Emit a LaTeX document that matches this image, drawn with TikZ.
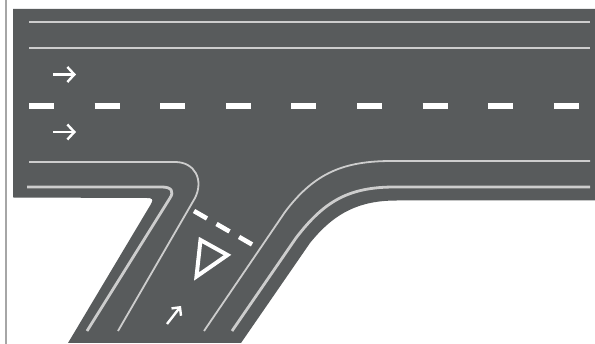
\documentclass[tikz,border=0pt]{standalone}
\usepackage{tikz}
\usetikzlibrary{arrows.meta}
\definecolor{RoadGray}{HTML}{585B5C}
\definecolor{EdgeGray}{HTML}{CDCDCD}
\definecolor{SideGray}{HTML}{A6A6A6}
\begin{document}
\begin{tikzpicture}[
      x=1pt, y=-1pt,
      road/.style={fill=RoadGray, draw=none},
      thinline/.style={draw=EdgeGray, line width=1.8pt},
      thickline/.style={draw=EdgeGray, line width=2.8pt},
      paint/.style={draw=white, line width=2.4pt},
      laneArrow/.style={paint, -{Straight Barb[length=7pt, width=15pt, line width=2.4pt]}},
      sideArrow/.style={paint, -{Straight Barb[length=6pt, width=12pt, line width=2.4pt]}},
      stopdash/.style={draw=white, line width=4.6pt, dash pattern=on 15pt off 11pt}
    ]
    \useasboundingbox (0,0) rectangle (595,344);
    % road surface
    \fill[road] (13,9) -- (595,9) -- (595,200.5) -- (397,200.5)
      .. controls (360,200.5) and (335,212) .. (310,243) -- (241,343) -- (68,343)
      -- (151,204) .. controls (154,199) and (152,198) .. (147,198) -- (13,197.5) -- cycle;
    \draw[draw=SideGray, line width=1.8pt] (6,0) -- (6,344);
    % main road edges
    \draw[thinline] (29,22) -- (590,22);
    \draw[thinline] (29,48) -- (590,48);
    \draw[paint, line width=5.4pt, dash pattern=on 25pt off 40.6pt] (29,106) -- (595,106);
    % left turn edges
    \draw[thinline] (29,162) -- (175,162) .. controls (195,162) and (204,180) .. (195,198) -- (118,331);
    \draw[thickline] (27,187) -- (162,187) .. controls (172,187) and (174,192) .. (170,198) -- (87,331);
    % right turn edges
    \draw[thinline] (590,161) -- (392,161) .. controls (345,161) and (315,172) .. (285,212) -- (204,331);
    \draw[thickline] (590,187) -- (395,187) .. controls (350,187) and (325,200) .. (296,238) -- (232,331);
    % stop line
    \draw[stopdash] (194,211) -- (253,245);
    % yield triangle
    \draw[paint, line width=4pt, miter limit=10] (200.5,240) -- (227.5,255) -- (196.5,276.5) -- cycle;
    % lane arrows
    \draw[laneArrow] (53,74.5) -- (76,74.5);
    \draw[laneArrow] (53,132) -- (76,132);
    \draw[sideArrow] (167,324) -- (181,306);
  \end{tikzpicture}
\end{document}
